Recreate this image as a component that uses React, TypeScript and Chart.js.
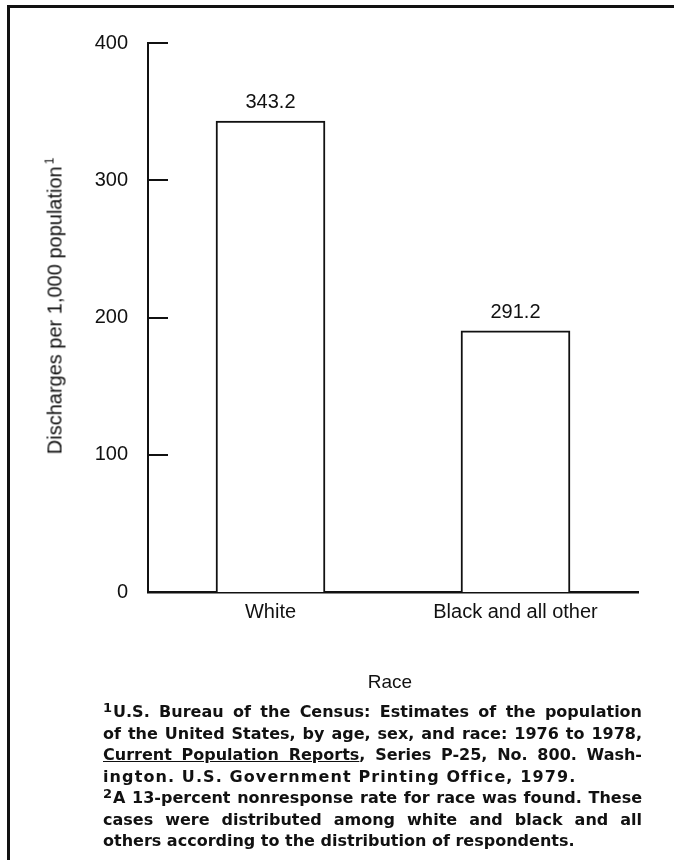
import React, { useEffect, useRef } from "react";
import { Chart, registerables } from "chart.js";

Chart.register(...registerables);

const categories = ["White", "Black and all other"];
const dischargeValues = [343.2, 190.2];
const valueLabels = ["343.2", "291.2"];
const yMin = 0;
const yMax = 400;
const yStep = 100;
const yTitle = "Discharges per 1,000 population";
const yTitleNote = "1";
const xTitle = "Race";

type Seg = { t: string; u?: boolean; sup?: boolean };
const footnoteLines: { segs: Seg[]; justify: boolean }[] = [
  { segs: [{ t: "1", sup: true }, { t: "U.S. Bureau of the Census: Estimates of the population" }], justify: true },
  { segs: [{ t: "of the United States, by age, sex, and race: 1976 to 1978," }], justify: true },
  { segs: [{ t: "Current Population Reports", u: true }, { t: ", Series P-25, No. 800. Wash-" }], justify: true },
  { segs: [{ t: "ington. U.S. Government Printing Office, 1979." }], justify: false },
  { segs: [{ t: "2", sup: true }, { t: "A 13-percent nonresponse rate for race was found. These" }], justify: true },
  { segs: [{ t: "cases were distributed among white and black and all" }], justify: true },
  { segs: [{ t: "others according to the distribution of respondents." }], justify: false },
];
// extra tracking (px) for particular footnote lines, to match the printed widths
const lineTracking: Record<number, number> = { 3: 1.1 };

const INK = "#111";
const SANS = "'Liberation Sans', Arial, sans-serif";

const decorPlugin = {
  id: "decor",
  afterDatasetsDraw(chart: any) {
    const { ctx, chartArea } = chart;
    const ys = chart.scales.y;
    ctx.save();
    ctx.strokeStyle = INK;
    ctx.lineWidth = 2;
    ys.ticks.forEach((t: any) => {
      const py = Math.round(ys.getPixelForValue(t.value));
      ctx.beginPath();
      ctx.moveTo(chartArea.left, py);
      ctx.lineTo(chartArea.left + 20, py);
      ctx.stroke();
    });
    const meta = chart.getDatasetMeta(0);
    ctx.fillStyle = INK;
    ctx.font = "20px " + SANS;
    ctx.textAlign = "center";
    ctx.textBaseline = "middle";
    meta.data.forEach((bar: any, i: number) => {
      ctx.fillText(valueLabels[i], bar.x, bar.y - 18);
    });
    ctx.restore();
  },
};

function BarChart() {
  const ref = useRef<HTMLCanvasElement | null>(null);
  useEffect(() => {
    if (!ref.current) return;
    const chart = new Chart(ref.current, {
      type: "bar",
      data: {
        labels: categories,
        datasets: [
          {
            data: dischargeValues,
            backgroundColor: "#ffffff",
            borderColor: INK,
            borderWidth: 2,
            barThickness: 109,
          },
        ],
      },
      options: {
        responsive: false,
        animation: false,
        devicePixelRatio: 1,
        layout: { padding: { left: 0, top: 43, right: 36, bottom: 228 } },
        plugins: {
          legend: { display: false },
          tooltip: { enabled: false },
          title: { display: false },
        },
        scales: {
          x: {
            type: "category",
            offset: true,
            grid: { display: false, drawTicks: false },
            border: { display: true, color: INK, width: 2.5 },
            ticks: { color: INK, font: { family: SANS, size: 20 }, padding: 8, maxRotation: 0 },
            afterFit: (s: any) => {
              s.height = 40;
            },
          },
          y: {
            min: yMin,
            max: yMax,
            grid: { display: false, drawTicks: false },
            border: { display: true, color: INK, width: 2 },
            ticks: { stepSize: yStep, color: INK, font: { family: SANS, size: 20 }, padding: 20 },
            afterFit: (s: any) => {
              s.width = 148;
            },
          },
        },
      },
      plugins: [decorPlugin],
    });
    return () => chart.destroy();
  }, []);
  return <canvas ref={ref} width={674} height={860} style={{ position: "absolute", left: 0, top: 0 }} />;
}

export default function App() {
  return (
    <div
      style={{
        position: "absolute",
        left: 0,
        top: 0,
        width: 674,
        height: 860,
        background: "#fff",
        overflow: "hidden",
        color: INK,
      }}
    >
      <BarChart />
      {/* frame */}
      <div style={{ position: "absolute", left: 7, top: 5, width: 3, height: 855, background: INK }} />
      <div style={{ position: "absolute", left: 7, top: 5, width: 667, height: 3, background: INK }} />
      {/* y title */}
      <div
        style={{
          position: "absolute",
          left: 56,
          top: 306,
          transform: "translate(-50%, -50%) rotate(-90deg)",
          whiteSpace: "nowrap",
          fontFamily: SANS,
          fontSize: 20,
          lineHeight: "22px",
        }}
      >
        {yTitle}
        <span style={{ fontSize: 12, position: "relative", top: -8, marginLeft: 2 }}>{yTitleNote}</span>
      </div>
      {/* x title */}
      <div
        style={{
          position: "absolute",
          left: 390,
          top: 682,
          transform: "translate(-50%, -50%)",
          whiteSpace: "nowrap",
          fontFamily: SANS,
          fontSize: 19,
        }}
      >
        {xTitle}
      </div>
      {/* footnotes */}
      <div style={{ position: "absolute", left: 103, top: 701, width: 539 }}>
        {footnoteLines.map((ln, i) => (
          <div
            key={i}
            style={{
              height: 21.5,
              lineHeight: "21.5px",
              overflow: "hidden",
              fontFamily: "'DejaVu Sans', sans-serif",
              fontWeight: "bold",
              fontSize: 16,
              letterSpacing: (lineTracking[i] || 0) + "px",
              textAlign: ln.justify ? "justify" : "left",
              textAlignLast: ln.justify ? "justify" : "left",
            } as any}
          >
            {ln.segs.map((s, j) =>
              s.sup ? (
                <span key={j} style={{ fontSize: 13, position: "relative", top: -5, marginRight: 1 }}>
                  {s.t}
                </span>
              ) : (
                <span key={j} style={{ textDecoration: s.u ? "underline" : "none" }}>
                  {s.t}
                </span>
              )
            )}
          </div>
        ))}
      </div>
    </div>
  );
}
